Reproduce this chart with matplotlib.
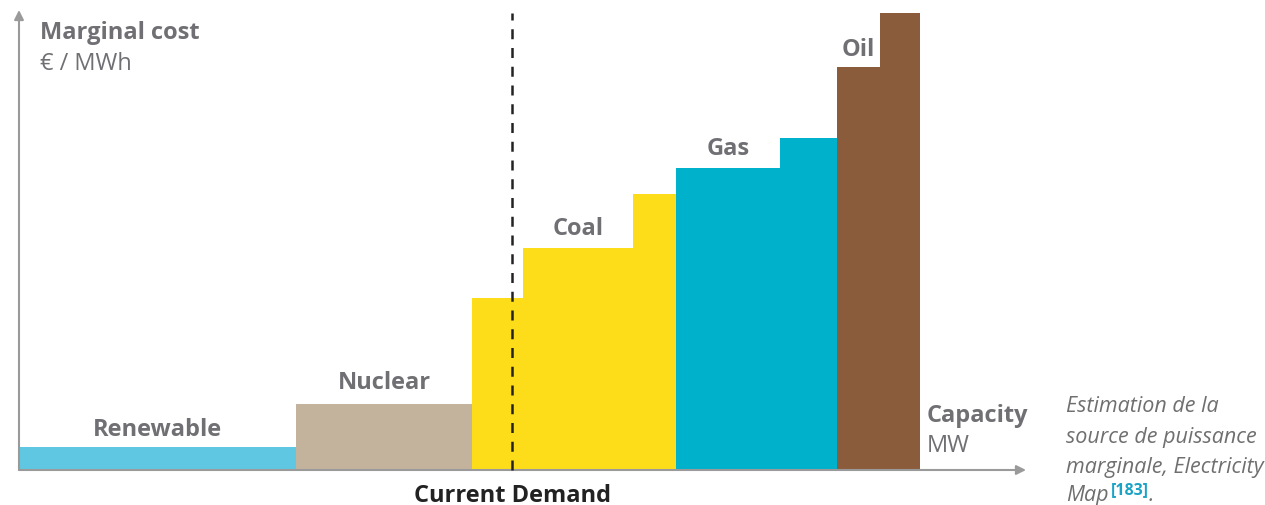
import matplotlib.pyplot as plt
from matplotlib.patches import FancyArrowPatch

plt.rcParams['font.family'] = ['Open Sans', 'DejaVu Sans']

# merit order blocks: capacity (MW, arbitrary units) and marginal cost
sources = ['Renewable', 'Nuclear', 'Coal', 'Coal', 'Coal', 'Gas', 'Gas', 'Oil', 'Oil']
capacity = [277, 176, 51, 110, 43, 104, 57, 43, 40]
cost = [23, 66, 172, 222, 276, 302, 332, 403, 457]
demand = 493

colors = {'Renewable': '#5fc7e1', 'Nuclear': '#c4b39c', 'Coal': '#fddd1a',
          'Gas': '#00b1cc', 'Oil': '#8a5c3b'}
# label anchor (which block + offset) for each source
label_pos = {'Renewable': (0, 18), 'Nuclear': (1, 22), 'Coal': (3, 20),
             'Gas': (5, 20), 'Oil': (7, 18)}

fig = plt.figure(figsize=(12.65, 5.06), dpi=100)
ax = fig.add_axes([0, 0, 1, 1])
ax.set_xlim(-19, 1246)
ax.set_ylim(-35, 471)
ax.axis('off')

lefts = [sum(capacity[:i]) for i in range(len(capacity))]
ax.bar(lefts, cost, width=capacity, align='edge',
       color=[colors[s] for s in sources], linewidth=0, zorder=2)

txt = '#707074'
for name, (i, off) in label_pos.items():
    ax.text(lefts[i] + capacity[i] / 2, cost[i] + off, name, ha='center', va='center',
            fontsize=17, fontweight='bold', color=txt)

grey = '#9a9a9a'
ax.add_patch(FancyArrowPatch((0, 0), (0, 460), arrowstyle='-|>', mutation_scale=14,
                             color=grey, lw=1.5, shrinkA=0, shrinkB=0, zorder=3))
ax.add_patch(FancyArrowPatch((0, 0), (1007, 0), arrowstyle='-|>', mutation_scale=14,
                             color=grey, lw=1.5, shrinkA=0, shrinkB=0, zorder=3))

ax.plot([demand, demand], [0, 457], color='#222222', lw=1.8, ls=(0, (4, 3.5)), zorder=4)
ax.text(demand, -25, 'Current Demand', ha='center', va='center', fontsize=17,
        fontweight='bold', color='#222222')

ax.text(21, 438.5, 'Marginal cost', ha='left', va='center', fontsize=17,
        fontweight='bold', color=txt)
ax.text(21, 407, '€ / MWh', ha='left', va='center', fontsize=17, color=txt)
ax.text(908, 55, 'Capacity', ha='left', va='center', fontsize=17,
        fontweight='bold', color=txt)
ax.text(908, 25, 'MW', ha='left', va='center', fontsize=17, color=txt)

cap_lines = ['Estimation de la', 'source de puissance', 'marginale, Electricity']
for k, line in enumerate(cap_lines):
    ax.text(1047, 64 - 30.5 * k, line, ha='left', va='center', fontsize=15.5,
            style='italic', color='#6f6f6f')
ax.text(1047, -25, 'Map', ha='left', va='center', fontsize=15.5, style='italic', color='#6f6f6f')
ax.text(1092, -19, '[183]', ha='left', va='center', fontsize=11.5, fontweight='bold',
        color='#1ba3c6')
ax.text(1130, -25, '.', ha='left', va='center', fontsize=15.5, style='italic', color='#6f6f6f')

fig.savefig('out.png', dpi=100)
